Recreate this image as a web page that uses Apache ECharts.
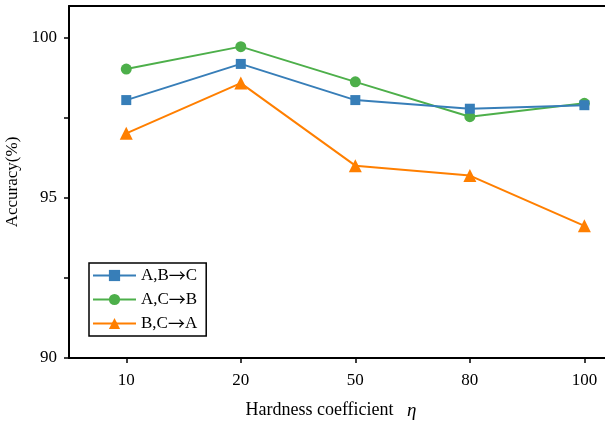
<!DOCTYPE html>
<html><head><meta charset="utf-8">
<script src="https://cdn.jsdelivr.net/npm/echarts@6/dist/echarts.min.js"></script>
<style>html,body{margin:0;padding:0;background:#fff}#c{width:605px;height:423px}</style>
</head><body><div id="c"></div>
<script>
var categories = ['10', '20', '50', '80', '100'];
var seriesNames = ['A,B\u2192C', 'A,C\u2192B', 'B,C\u2192A'];
var abc = [98.06, 99.19, 98.06, 97.79, 97.90];
var acb = [99.03, 99.73, 98.63, 97.54, 97.96];
var bca = [97.02, 98.59, 96.01, 95.70, 94.13];
var yTicks = [90, 92.5, 95, 97.5, 100];
var yLabels = [90, 95, 100];

var font = '"Liberation Serif", "Times New Roman", serif';
function pts(arr) { return arr.map(function (v, i) { return [i, v]; }); }
var colors = ['#377eb8', '#4daf4a', '#ff7f00'];
var symbols = ['rect', 'circle', 'triangle'];
var sizes = [10, 11, 13];
var datas = [abc, acb, bca];

var chart = echarts.init(document.getElementById('c'), null, {renderer: 'canvas'});
chart.setOption({
  animation: false,
  backgroundColor: '#fff',
  grid: {left: 69, right: 0, top: 6, bottom: 65, containLabel: false, outerBoundsMode: 'none'},
  legend: {
    left: 89, top: 263, orient: 'vertical',
    data: seriesNames,
    itemWidth: 43, itemHeight: 14, itemGap: 7,
    padding: [4, 9, 4, 3],
    borderColor: '#000', borderWidth: 1.5,
    formatter: function (n) {
      var p = n.split('\u2192');
      return p[0] + '{a|\u2192}' + p[1];
    },
    textStyle: {fontFamily: font, fontSize: 17, color: '#000',
      rich: {a: {fontFamily: '"Noto Sans CJK SC"', fontSize: 17, color: '#000'}}}
  },
  xAxis: [{
    type: 'value', min: -0.5, max: 4.18,
    name: 'Hardness coefficient   {i|\u03b7}',
    nameLocation: 'middle', nameGap: 43,
    nameTextStyle: {fontFamily: font, fontSize: 18, color: '#000', padding: [0, 12, 0, 0],
      rich: {i: {fontFamily: font, fontSize: 19, fontStyle: 'italic', color: '#000'}}},
    splitLine: {show: false},
    axisLine: {onZero: false, lineStyle: {color: '#000', width: 2}},
    axisTick: {show: true, length: 5, lineStyle: {color: '#000', width: 1.5}, customValues: [0, 1, 2, 3, 4]},
    axisLabel: {fontFamily: font, fontSize: 17, color: '#000', margin: 14,
      customValues: [0, 1, 2, 3, 4],
      formatter: function (v) { return categories[Math.round(v)]; }}
  }, {
    type: 'value', position: 'top', min: -0.5, max: 4.18,
    splitLine: {show: false},
    axisLine: {show: true, onZero: false, lineStyle: {color: '#000', width: 2}},
    axisTick: {show: false}, axisLabel: {show: false}
  }],
  yAxis: {
    type: 'value', min: 90, max: 101,
    name: 'Accuracy(%)', nameLocation: 'middle', nameGap: 40,
    nameTextStyle: {fontFamily: font, fontSize: 17, color: '#000'},
    splitLine: {show: false},
    axisLine: {show: true, onZero: false, lineStyle: {color: '#000', width: 2}},
    axisTick: {show: true, length: 5, lineStyle: {color: '#000', width: 1.5}, customValues: yTicks},
    axisLabel: {fontFamily: font, fontSize: 17, color: '#000', margin: 12, customValues: yLabels}
  },
  series: datas.map(function (d, k) {
    return {
      name: seriesNames[k], type: 'line', data: pts(d),
      symbol: symbols[k], symbolSize: sizes[k],
      itemStyle: {color: colors[k]},
      lineStyle: {color: colors[k], width: 2},
      z: 3 - k
    };
  })
});
</script></body></html>
